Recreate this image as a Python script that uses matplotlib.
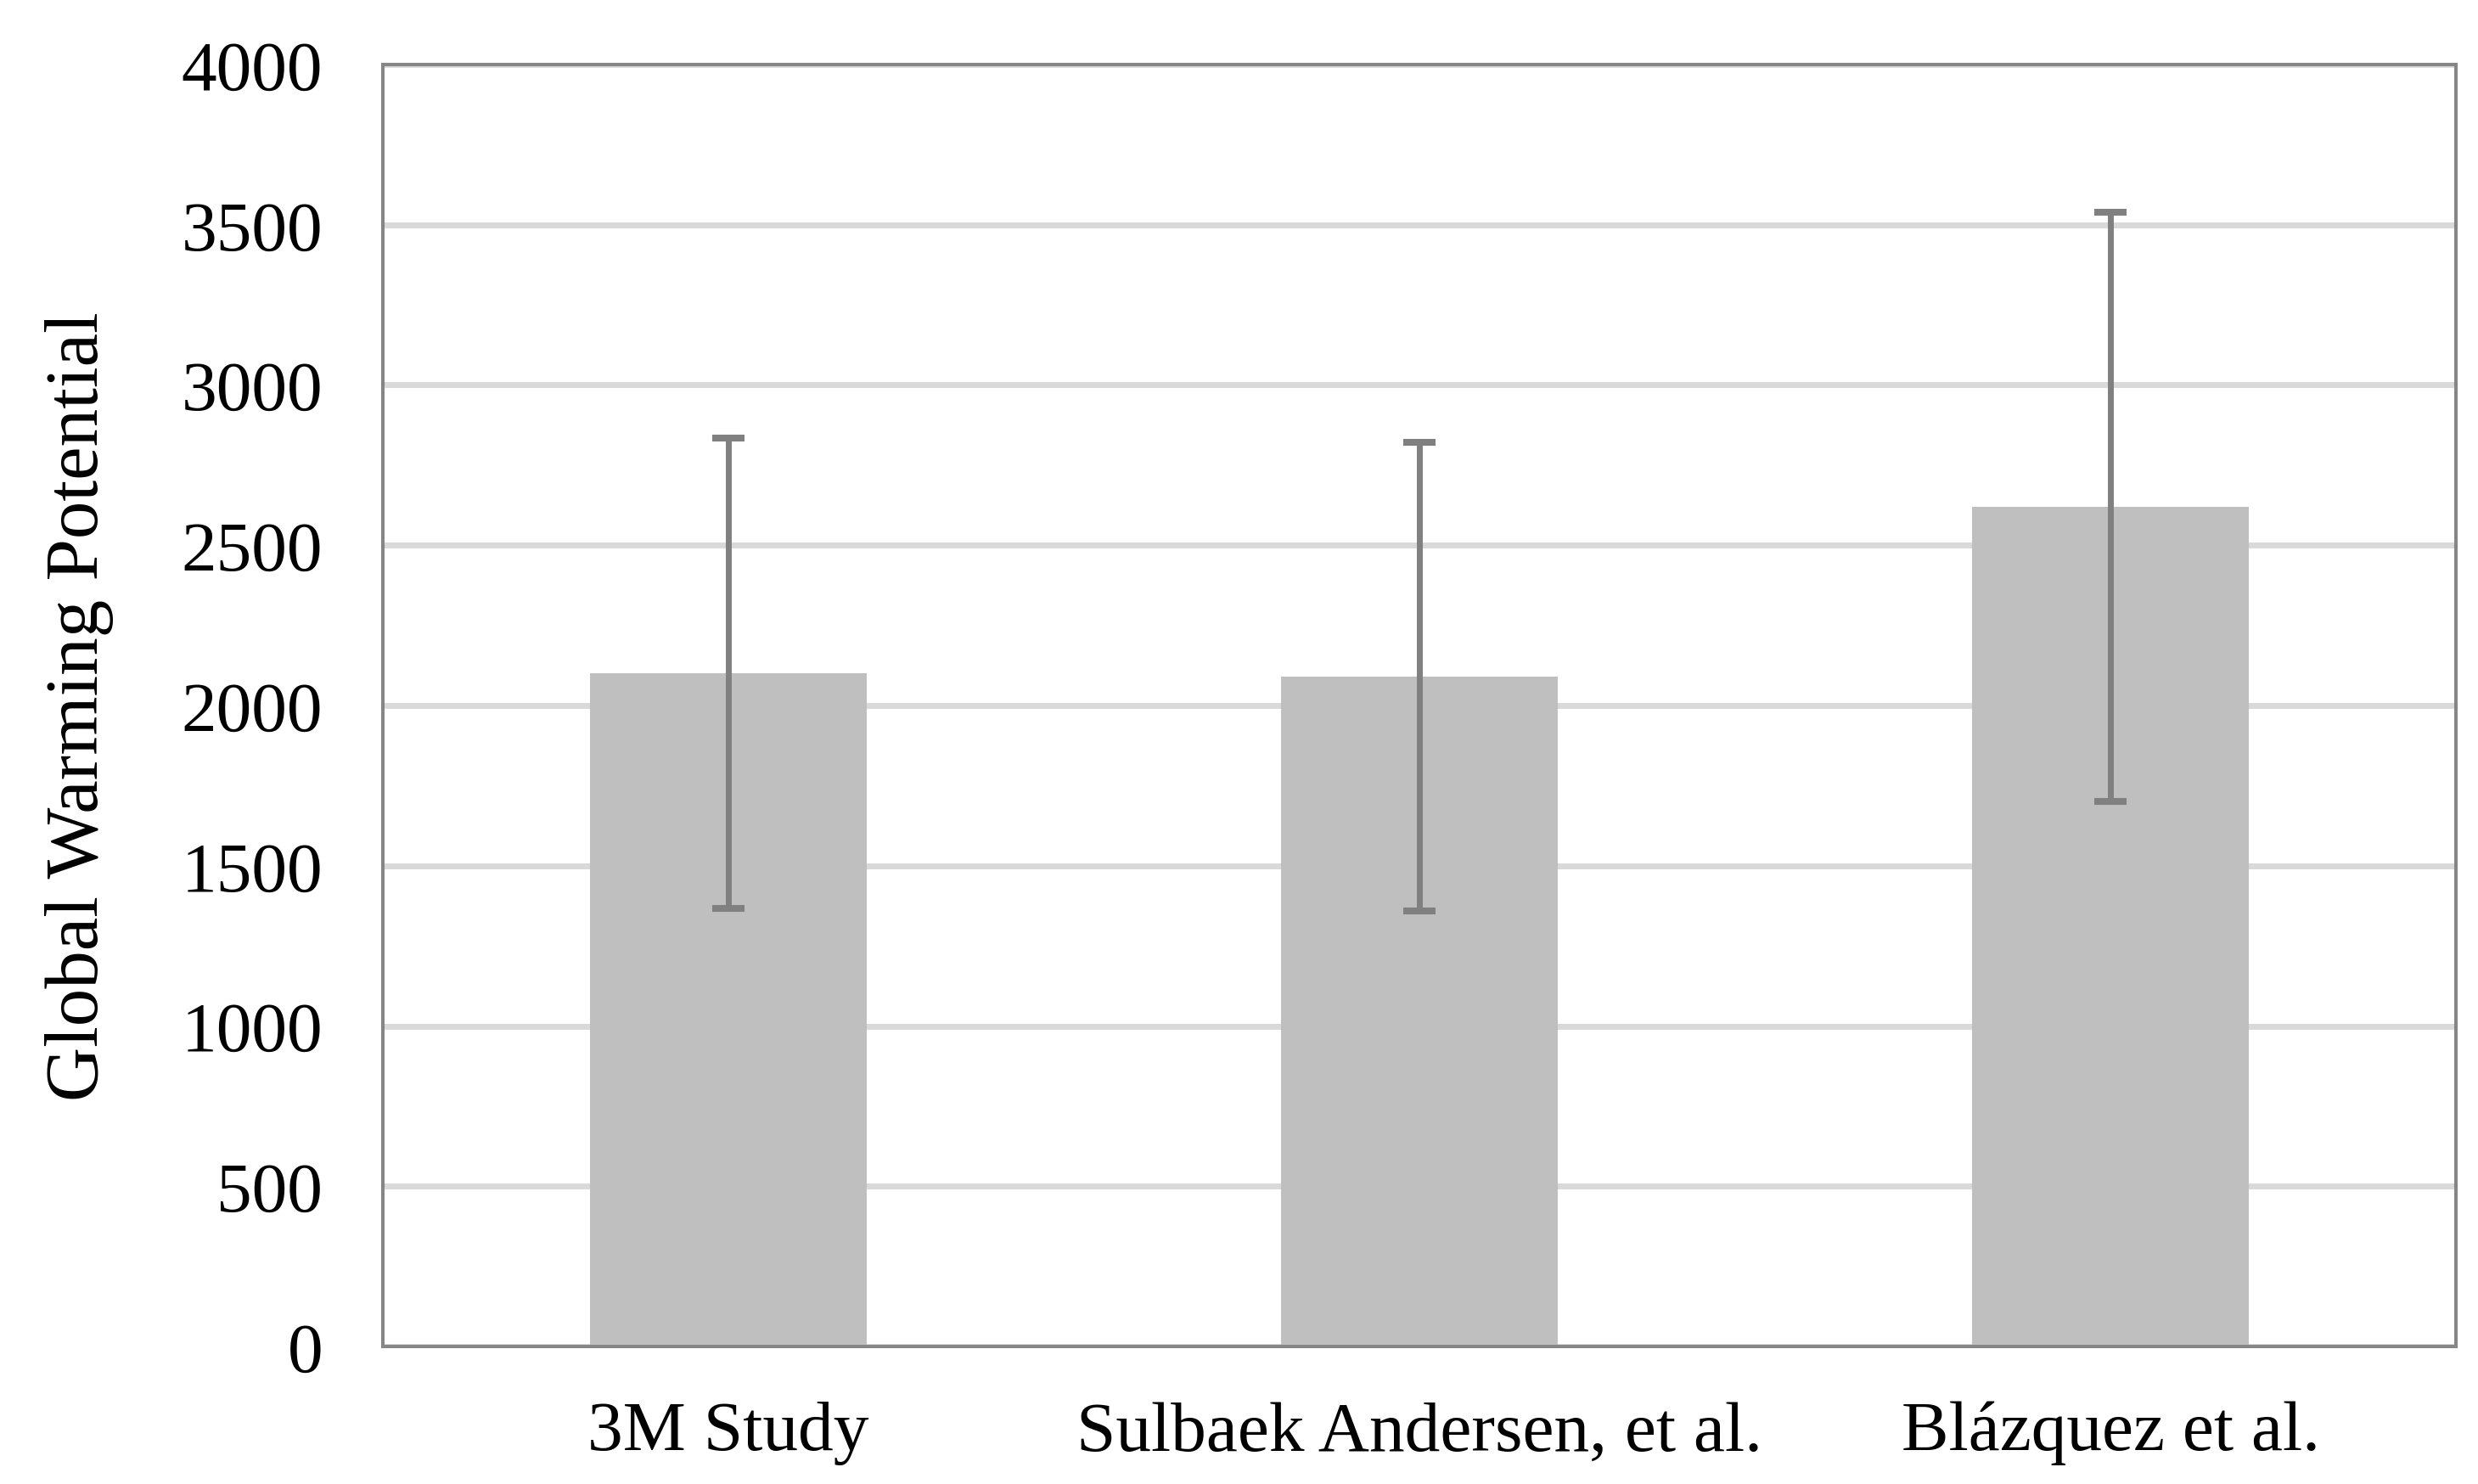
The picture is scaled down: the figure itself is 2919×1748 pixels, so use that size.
import matplotlib
matplotlib.use("Agg")
import matplotlib.pyplot as plt

# data
studies = ["3M Study", "Sulbaek Andersen, et al.", "Blázquez et al."]
gwp = [2100, 2090, 2620]
gwp_err = [734, 732, 920]
yticks = [0, 500, 1000, 1500, 2000, 2500, 3000, 3500, 4000]

plt.rcParams["font.family"] = ["Liberation Serif", "DejaVu Serif"]

fig = plt.figure(figsize=(29.19, 17.49), dpi=100)
ax = fig.add_axes([0.1545, 0.0926, 0.8366, 0.8634])

x = range(len(studies))
ax.bar(x, gwp, width=0.4, color="#BFBFBF", zorder=2)
ax.errorbar(x, gwp, yerr=gwp_err, fmt="none", ecolor="#808080",
            elinewidth=5, capsize=13.7, capthick=5.8, zorder=3)

ax.set_xlim(-0.5, 2.5)
ax.set_ylim(0, 4000)
ax.set_yticks(yticks)
ax.set_xticks(list(x))
ax.set_xticklabels(studies)

ax.yaxis.grid(True, color="#D9D9D9", linewidth=5, zorder=0)
ax.set_axisbelow(True)

for s in ax.spines.values():
    s.set_color("#868686")
    s.set_linewidth(2.9)

ax.tick_params(axis="both", length=0, labelsize=60)
ax.tick_params(axis="y", pad=51)
ax.tick_params(axis="x", pad=46)

ax.set_ylabel("Global Warming Potential", fontsize=64)
ax.yaxis.set_label_coords(-0.130, 0.5)

fig.savefig("out.png", dpi=100, facecolor="white")
